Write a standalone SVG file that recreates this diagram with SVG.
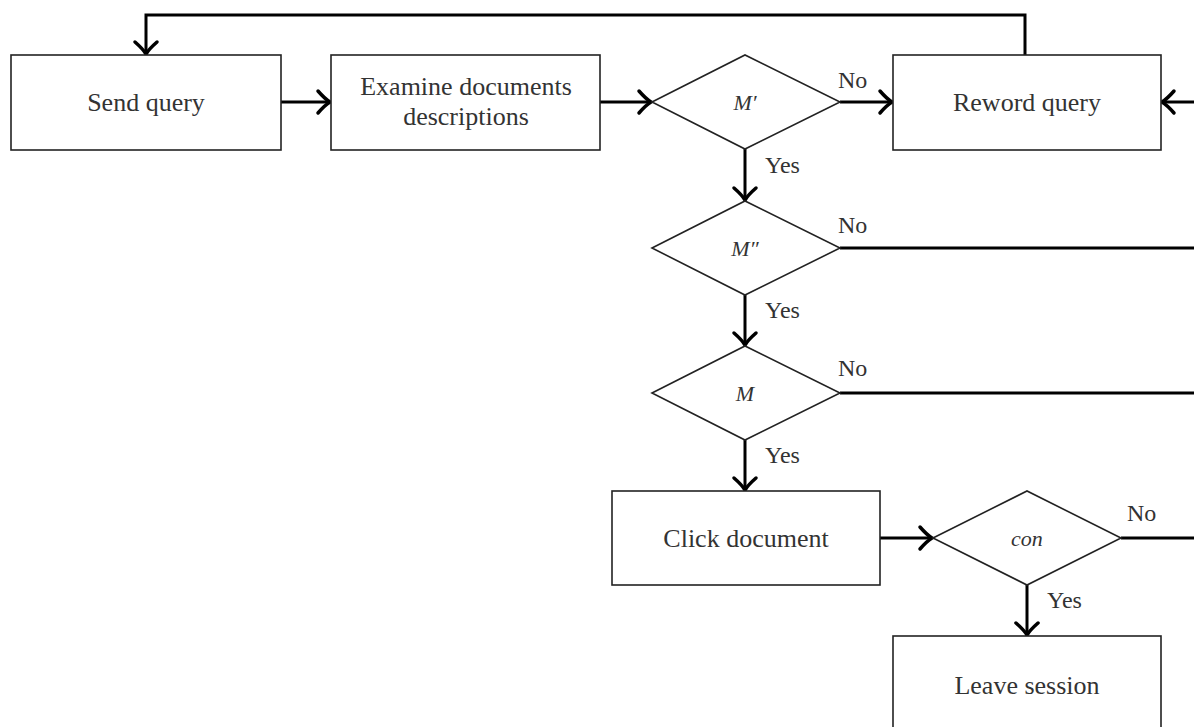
<svg xmlns="http://www.w3.org/2000/svg" width="1194" height="727" viewBox="0 0 1194 727">
<style>
.box{fill:#fff;stroke:#222;stroke-width:1.6}
.dia{fill:#fff;stroke:#222;stroke-width:1.6}
.t{font-family:"Liberation Serif","Times New Roman",serif;font-size:26px;fill:#333;text-anchor:middle}
.m{font-family:"Liberation Serif","Times New Roman",serif;font-size:22px;font-style:italic;fill:#333;text-anchor:middle}
.lab{font-family:"Liberation Serif","Times New Roman",serif;font-size:24px;fill:#333}
.c{fill:none;stroke:#000;stroke-width:3}
</style>
<defs>
<marker id="arr" markerUnits="userSpaceOnUse" viewBox="-16 -16 20 32" refX="0" refY="0" markerWidth="20" markerHeight="32" orient="auto" overflow="visible">
<path d="M-12,-11 Q-5,-3 0,0 Q-5,3 -12,11" fill="none" stroke="#000" stroke-width="3.5" stroke-linecap="round"/>
</marker>
</defs>
<rect width="1194" height="727" fill="#fff"/>
<g id="connectors">
<polyline class="c" points="1025,55 1025,15 146,15 146,54" marker-end="url(#arr)"/>
<line class="c" x1="281" y1="102" x2="330" y2="102" marker-end="url(#arr)"/>
<line class="c" x1="600" y1="102" x2="651" y2="102" marker-end="url(#arr)"/>
<line class="c" x1="840" y1="102" x2="892" y2="102" marker-end="url(#arr)"/>
<line class="c" x1="1194" y1="102" x2="1162" y2="102" marker-end="url(#arr)"/>
<line class="c" x1="745" y1="149" x2="745" y2="200" marker-end="url(#arr)"/>
<line class="c" x1="840" y1="248" x2="1194" y2="248"/>
<line class="c" x1="745" y1="295" x2="745" y2="345" marker-end="url(#arr)"/>
<line class="c" x1="840" y1="393" x2="1194" y2="393"/>
<line class="c" x1="745" y1="440" x2="745" y2="490" marker-end="url(#arr)"/>
<line class="c" x1="880" y1="538" x2="932" y2="538" marker-end="url(#arr)"/>
<line class="c" x1="1121" y1="538" x2="1194" y2="538"/>
<line class="c" x1="1027" y1="585" x2="1027" y2="635" marker-end="url(#arr)"/>
<text class="lab" x="838" y="88">No</text>
<text class="lab" x="765" y="173">Yes</text>
<text class="lab" x="838" y="233">No</text>
<text class="lab" x="765" y="318">Yes</text>
<text class="lab" x="838" y="376">No</text>
<text class="lab" x="765" y="463">Yes</text>
<text class="lab" x="1127" y="521">No</text>
<text class="lab" x="1047" y="608">Yes</text>
</g>
<g id="send-query">
<rect class="box" x="11" y="55" width="270" height="95"/>
<text class="t" x="146" y="111">Send query</text>
</g>
<g id="examine">
<rect class="box" x="331" y="55" width="269" height="95"/>
<text class="t" x="466" y="95">Examine documents</text>
<text class="t" x="466" y="125">descriptions</text>
</g>
<g id="m-prime">
<polygon class="dia" points="652,102 745,55 840,102 745,149"/>
<text class="m" x="745" y="110">M′</text>
</g>
<g id="reword-query">
<rect class="box" x="893" y="55" width="268" height="95"/>
<text class="t" x="1027" y="111">Reword query</text>
</g>
<g id="m-double-prime">
<polygon class="dia" points="652,248 745,201 840,248 745,295"/>
<text class="m" x="745" y="256">M″</text>
</g>
<g id="m">
<polygon class="dia" points="652,393 745,346 840,393 745,440"/>
<text class="m" x="745" y="401">M</text>
</g>
<g id="click-document">
<rect class="box" x="612" y="491" width="268" height="94"/>
<text class="t" x="746" y="547">Click document</text>
</g>
<g id="con">
<polygon class="dia" points="933,538 1027,491 1121,538 1027,585"/>
<text class="m" x="1027" y="546">con</text>
</g>
<g id="leave-session">
<rect class="box" x="893" y="636" width="268" height="110"/>
<text class="t" x="1027" y="694">Leave session</text>
</g>
</svg>
